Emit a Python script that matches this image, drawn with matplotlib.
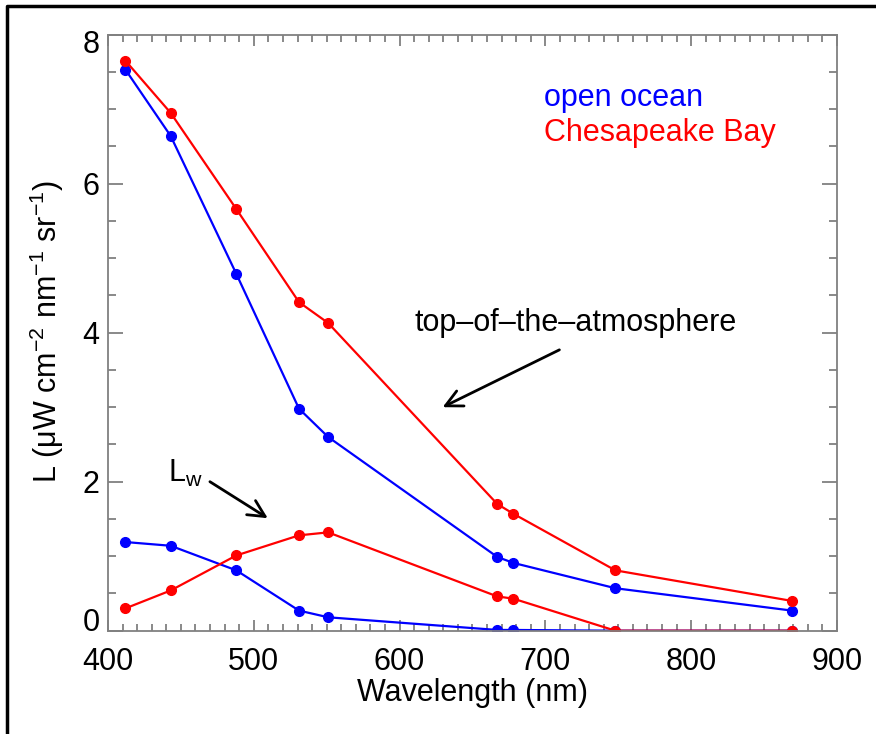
import numpy as np
import matplotlib
matplotlib.use("Agg")
import matplotlib.pyplot as plt
from matplotlib.lines import Line2D
from matplotlib.ticker import MultipleLocator
from matplotlib.transforms import ScaledTranslation

plt.rcParams['font.family'] = ['Liberation Sans', 'DejaVu Sans']
plt.rcParams['mathtext.default'] = 'regular'

# MODIS band centres (nm)
wavelength = [412, 443, 488, 531, 551, 667, 678, 748, 869]

# top-of-the-atmosphere radiance
toa_ocean = [7.53, 6.64, 4.79, 2.98, 2.60, 0.99, 0.91, 0.57, 0.27]
toa_bay = [7.65, 6.95, 5.66, 4.41, 4.13, 1.70, 1.57, 0.81, 0.40]

# water-leaving radiance Lw
lw_ocean = [1.19, 1.14, 0.81, 0.27, 0.18, 0.01, 0.01, 0.0, 0.0]
lw_bay = [0.30, 0.54, 1.01, 1.28, 1.32, 0.46, 0.43, 0.0, 0.0]

blue = '#0000ff'
red = '#ff0000'

fig = plt.figure(figsize=(8.76, 7.34), dpi=100)
ax = fig.add_axes([108 / 876, 1 - 630.7 / 734, 729 / 876, 596 / 734])

style = dict(lw=1.6, marker='o', ms=7)
ax.plot(wavelength, toa_ocean, color=blue, **style)
ax.plot(wavelength, toa_bay, color=red, **style)
ax.plot(wavelength, lw_ocean, color=blue, **style)
ax.plot(wavelength, lw_bay, color=red, **style)

ax.set_xlim(400, 900)
ax.set_ylim(0, 8)
ax.xaxis.set_major_locator(MultipleLocator(100))
ax.xaxis.set_minor_locator(MultipleLocator(10))
ax.yaxis.set_major_locator(MultipleLocator(2))
ax.yaxis.set_minor_locator(MultipleLocator(0.5))

for s in ax.spines.values():
    s.set_color('#808080')
    s.set_linewidth(1.3)

ax.tick_params(which='both', direction='in', top=True, right=True,
               color='#808080', width=1.3, labelsize=22)
ax.tick_params(axis='x', which='major', length=8, pad=12)
ax.tick_params(axis='x', which='minor', length=5)
ax.tick_params(axis='y', which='major', length=11, pad=6)
ax.tick_params(axis='y', which='minor', length=5.5)

ax.set_xlabel('Wavelength (nm)', fontsize=22)
ax.xaxis.label.set_va('center')
ax.xaxis.set_label_coords(0.5, (630.7 - 693) / 596)
ax.set_ylabel('L (μW cm$^{-2}$ nm$^{-1}$ sr$^{-1}$)', fontsize=22)
ax.yaxis.label.set_va('center')
ax.yaxis.set_label_coords((47 - 108) / 729, 0.501)

ax.text(699, 7.15, 'open ocean', color=blue, fontsize=22, va='center')
ax.text(699, 6.68, 'Chesapeake Bay', color=red, fontsize=22, va='center')

ax.text(610, 4.13, 'top\u2013of\u2013the\u2013atmosphere', fontsize=22, va='center')
ax.annotate('', xy=(629.5, 3.0), xytext=(709.6, 3.77),
            arrowprops=dict(arrowstyle='->', lw=2, color='k',
                            mutation_scale=30, shrinkA=0, shrinkB=0))

ax.text(441, 2.0, 'L$_w$', fontsize=22, va='baseline')
ax.annotate('', xy=(509.6, 1.51), xytext=(469.9, 2.0),
            arrowprops=dict(arrowstyle='->', lw=2, color='k',
                            mutation_scale=30, shrinkA=0, shrinkB=0))

# frame round the figure (only left and top edges show)
fig.add_artist(Line2D([6.5 / 876, 6.5 / 876, 1], [0, 1 - 5.5 / 734, 1 - 5.5 / 734],
                      color='k', lw=2.5, transform=fig.transFigure))

# end labels sit inside the axis range, as in the original
fig.canvas.draw()
for t in ax.yaxis.get_major_ticks():
    if abs(t.get_loc() - 0) < 1e-6:
        t.label1.set_va('baseline')
    elif abs(t.get_loc() - 8) < 1e-6:
        t.label1.set_transform(t.label1.get_transform()
                               + ScaledTranslation(0, -0.065, fig.dpi_scale_trans))

fig.savefig('out.png', dpi=100)
